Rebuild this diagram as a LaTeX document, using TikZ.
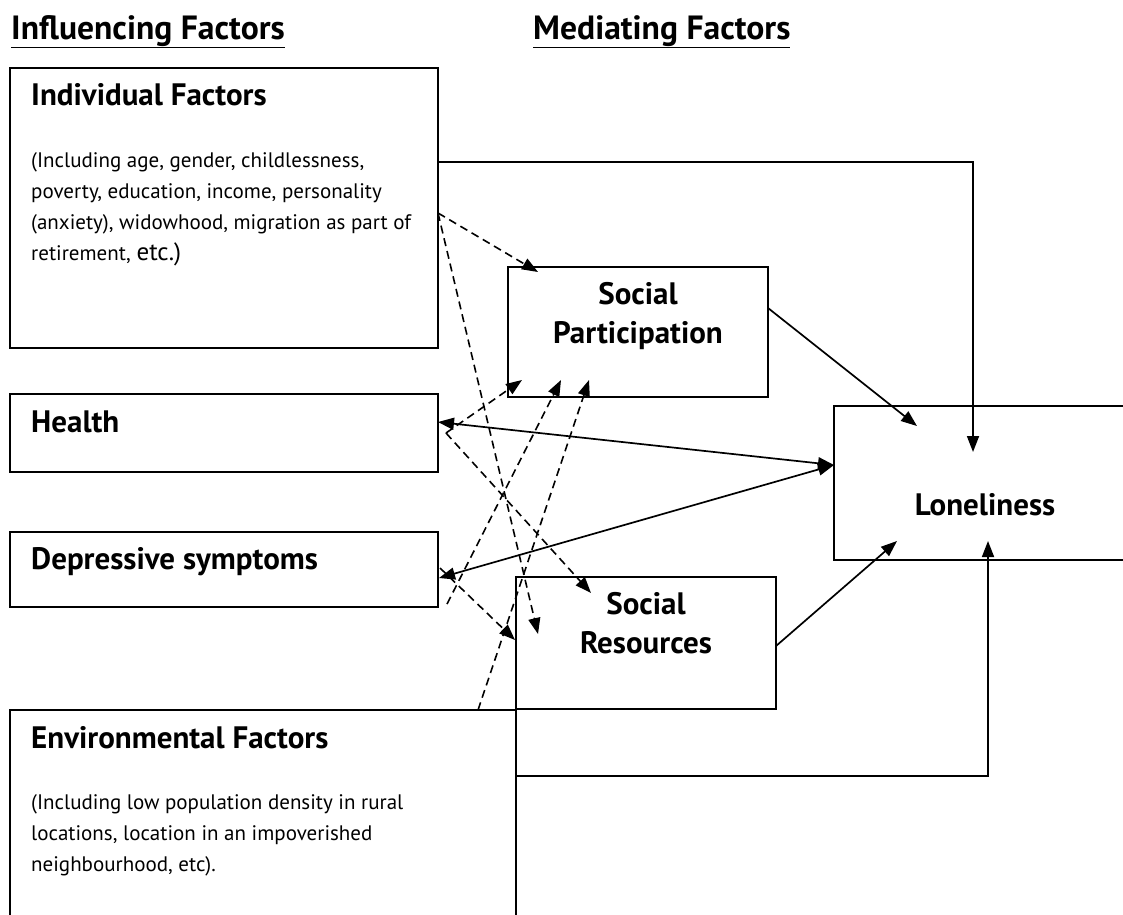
\documentclass[tikz,border=0pt]{standalone}
\usepackage{fontspec}
\setmainfont{PT Sans}
\usetikzlibrary{arrows.meta}
\begin{document}
\begin{tikzpicture}[x=1pt,y=-1pt,
  box/.style={draw, line width=1.8pt, anchor=north west, inner sep=0pt, outer sep=0pt},
  hdr/.style={anchor=base west, inner sep=0pt, font=\fontsize{33.6}{38}\selectfont\bfseries},
  ttl/.style={anchor=base west, inner sep=0pt, font=\fontsize{31}{36}\selectfont\bfseries},
  body/.style={anchor=base west, inner sep=0pt, font=\fontsize{21}{25}\selectfont},
  ctr/.style={anchor=base, inner sep=0pt, font=\fontsize{31}{36}\selectfont\bfseries},
  tip/.style={-{Triangle[length=16pt,width=12pt]}},
  con/.style={line width=1.7pt, tip},
  dcon/.style={line width=1.6pt, tip, dash pattern=on 8pt off 5pt},
  both/.style={line width=1.7pt, {Triangle[length=16pt,width=12pt]}-{Triangle[length=16pt,width=12pt]}}
]
\useasboundingbox (0,0) rectangle (1123,914);

% headers
\node[hdr] (h1) at (11,39) {\underline{Influencing Factors}};
\node[hdr] (h2) at (533,39) {\underline{Mediating Factors}};

% boxes
\node[box, minimum width=428pt, minimum height=280pt] (ind) at (10,68) {};
\node[box, minimum width=428pt, minimum height=78pt] (hea) at (10,394) {};
\node[box, minimum width=428pt, minimum height=75pt] (dep) at (10,532) {};
\node[box, minimum width=506pt, minimum height=240pt] (env) at (10,710) {};
\node[box, minimum width=260pt, minimum height=130pt] (sp) at (508,267) {};
\node[box, minimum width=260pt, minimum height=132pt] (sr) at (516,577) {};
\node[box, minimum width=302pt, minimum height=154pt] (lon) at (834,406) {};

% texts
\node[ttl] (tind) at (31,105) {Individual Factors};
\node[body] (b1) at (31,167) {(Including age, gender, childlessness,};
\node[body] (b2) at (31,198) {poverty, education, income, personality};
\node[body] (b3) at (31,229) {(anxiety), widowhood, migration as part of};
\node[body] (b4) at (31,260) {retirement, {\fontsize{25}{29}\selectfont etc.)}};
\node[ttl] (thea) at (31,432) {Health};
\node[ttl] (tdep) at (31,569) {Depressive symptoms};
\node[ttl] (tenv) at (31,748) {Environmental Factors};
\node[body] (e1) at (31,809) {(Including low population density in rural};
\node[body] (e2) at (31,840) {locations, location in an impoverished};
\node[body] (e3) at (31,871) {neighbourhood, etc).};
\node[ctr] (tsp1) at (638,304) {Social};
\node[ctr] (tsp2) at (638,343) {Participation};
\node[ctr] (tsr1) at (646,614) {Social};
\node[ctr] (tsr2) at (646,653) {Resources};
\node[ctr] (tlon) at (985,515) {Loneliness};

% connector end points
\coordinate (iA) at (438,162);
\coordinate (lA) at (973,452);
\coordinate (spA) at (768,308);
\coordinate (lB) at (917,426);
\coordinate (srA) at (776,646);
\coordinate (lC) at (897,541);
\coordinate (eA) at (516,776);
\coordinate (lD) at (988,541);
\coordinate (hA) at (438,422);
\coordinate (dA) at (439,578);
\coordinate (lE) at (834,465);

% solid connectors
\draw[con] (iA) -| (lA);
\draw[con] (spA) -- (lB);
\draw[con] (srA) -- (lC);
\draw[con] (eA) -| (lD);
\draw[both] (hA) -- (lE);
\draw[both] (dA) -- (lE);

% dashed connectors
\coordinate (iD) at (438,213);
\coordinate (spT) at (538,272);
\coordinate (srI) at (538,634);
\coordinate (hD) at (446,433);
\coordinate (spH) at (522,380);
\coordinate (srH) at (591,593);
\coordinate (dD1) at (447,604);
\coordinate (spD) at (561,380);
\coordinate (dD2) at (440,568);
\coordinate (srD) at (515,640);
\coordinate (eD) at (478,710);
\coordinate (spE) at (589,380);

\draw[dcon] (iD) -- (spT);
\draw[dcon] (iD) -- (srI);
\draw[dcon] (hD) -- (spH);
\draw[dcon] (hD) -- (srH);
\draw[dcon] (dD1) -- (spD);
\draw[dcon] (dD2) -- (srD);
\draw[dcon] (eD) -- (spE);
\end{tikzpicture}
\end{document}
